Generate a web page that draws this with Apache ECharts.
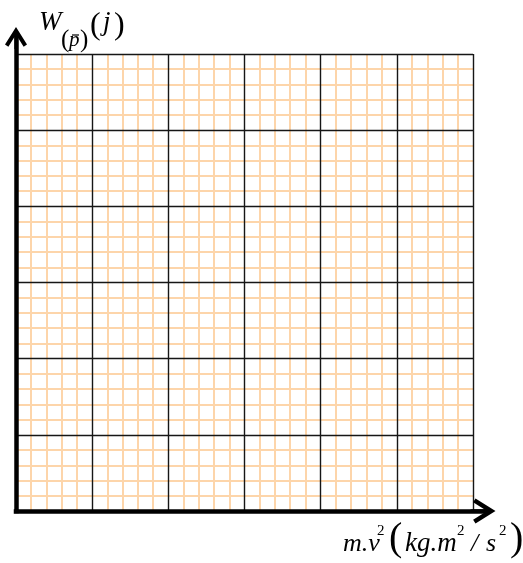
<!DOCTYPE html>
<html>
<head>
<meta charset="utf-8">
<style>
  html, body { margin: 0; padding: 0; background: #fff; }
  #chart { width: 523px; height: 563px; }
</style>
<script src="https://cdn.jsdelivr.net/npm/echarts@6/dist/echarts.min.js"></script>
</head>
<body>
<div id="chart"></div>
<script>
// papier millimétré : 6 x 6 grands carreaux, 5 petits carreaux par grand
const xRange = [0, 30];
const yRange = [0, 30];
const majorStep = 5;
const minorPerMajor = 5;
const points = [];   // aucun point tracé sur la feuille

const serif = '"Liberation Serif", "DejaVu Serif", serif';
const MINOR = '#fdd5aa';
const MAJOR = '#161616';
// flèche ouverte (chevron + tige), pointe vers le haut dans son repère
const ARROW = 'path://M50,0 L100,80 L84.7,89.5 L57,45.2 L57,100 L43,100 L43,45.2 L15.3,89.5 L0,80 Z';

const hidden = { axisLine: { show: false }, axisTick: { show: false }, axisLabel: { show: false } };

function paperAxis(range, grid, position, z, minor) {
  return Object.assign({
    type: 'value', gridIndex: grid, position, z,
    min: range[0], max: range[1], interval: majorStep,
    minorTick: { show: false, splitNumber: minorPerMajor },
    splitLine: { show: !minor, lineStyle: { color: MAJOR, width: 1.4 } },
    minorSplitLine: { show: minor, lineStyle: { color: MINOR, width: 2 } }
  }, hidden);
}

function arrowAxis(range, position, size) {
  return {
    type: 'value', gridIndex: 1, position, z: 5,
    min: range[0], max: range[1],
    axisLine: {
      show: true, symbol: ['none', ARROW], symbolSize: size,
      lineStyle: { color: '#000', width: 4.5, cap: 'square' }
    },
    axisTick: { show: false }, axisLabel: { show: false }, splitLine: { show: false }
  };
}

// texte en position absolue, base = ligne de base approximative
function txt(s, x, base, size, italic) {
  return {
    type: 'text', x, y: base - 0.27 * size, z: 10,
    style: {
      text: s, fill: '#000', align: 'left', verticalAlign: 'middle',
      font: (italic ? 'italic ' : '') + size + 'px ' + serif
    }
  };
}

const chart = echarts.init(document.getElementById('chart'));
chart.setOption({
  animation: false,
  grid: [
    { left: 16, top: 54, width: 457, height: 457 },
    { left: 16, top: 38, width: 467, height: 473 }
  ],
  xAxis: [
    paperAxis(xRange, 0, 'bottom', 1, true),
    paperAxis(xRange, 0, 'top', 2, false),
    arrowAxis(xRange, 'bottom', [25, 26])
  ],
  yAxis: [
    paperAxis(yRange, 0, 'left', 1, true),
    paperAxis(yRange, 0, 'right', 2, false),
    arrowAxis(yRange, 'left', [22, 25])
  ],
  series: [{ type: 'scatter', xAxisIndex: 0, yAxisIndex: 0, data: points }],
  graphic: [
    // W_(p̄)(j)
    txt('W', 39, 30, 27, true),
    txt('(', 61, 47, 25, false),
    txt('p', 69, 46.5, 21, true),
    { type: 'line', z: 10, shape: { x1: 72, y1: 35, x2: 79, y2: 35 }, style: { stroke: '#000', lineWidth: 1.2 } },
    txt(')', 80, 47, 25, false),
    txt('(', 90, 34, 32, false),
    txt('j', 103, 30, 27, true),
    txt(')', 114, 34, 32, false),
    // m.v²(kg.m²/s²)
    txt('m.v', 343, 551, 26, true),
    txt('2', 377, 535, 15, false),
    txt('(', 389, 550, 40, false),
    txt('kg.m', 405, 551, 27, true),
    txt('2', 457, 535, 15, false),
    txt('/', 471, 551, 26, true),
    txt('s', 486, 551, 26, true),
    txt('2', 499, 535, 15, false),
    txt(')', 510, 550, 40, false)
  ]
});
window.addEventListener('resize', () => chart.resize());
</script>
</body>
</html>
